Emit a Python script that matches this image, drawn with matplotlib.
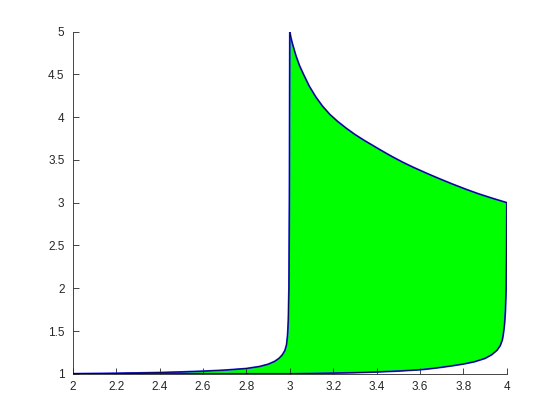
import matplotlib
matplotlib.use("Agg")
import matplotlib.pyplot as plt
import numpy as np

# Left (lower) curve, from (2,1) up to (3,5)
left_x = [2.0, 2.2, 2.4, 2.5, 2.6, 2.7, 2.8, 2.86, 2.9, 2.93, 2.95, 2.965, 2.977,
          2.985, 2.99, 2.993, 2.996, 2.998, 2.999, 3.0]
left_y = [1.0, 1.006, 1.015, 1.022, 1.031, 1.043, 1.062, 1.085, 1.112, 1.145, 1.18, 1.22, 1.27,
          1.34, 1.46, 1.62, 2.0, 3.0, 4.0, 5.0]

# Top curve, from (3,5) down to (4,3)
top_x = [3.0, 3.005, 3.013, 3.028, 3.045, 3.065, 3.09, 3.12, 3.15, 3.185, 3.22,
         3.26, 3.30, 3.34, 3.38, 3.42, 3.47, 3.52, 3.57, 3.63, 3.69, 3.75, 3.81,
         3.87, 3.935, 4.0]
top_y = [5.0, 4.93, 4.85, 4.72, 4.60, 4.49, 4.36, 4.235, 4.13, 4.03, 3.95,
         3.87, 3.797, 3.732, 3.672, 3.612, 3.54, 3.473, 3.412, 3.344, 3.279, 3.217, 3.158,
         3.103, 3.05, 3.0]

# Right side and lower-right curve, from (4,3) back to (3,1)
right_x = [4.0, 3.999, 3.997, 3.994, 3.99, 3.985, 3.98, 3.97, 3.955, 3.93, 3.90,
           3.85, 3.80, 3.75, 3.70, 3.65, 3.60, 3.5, 3.4, 3.3, 3.2, 3.1, 3.0]
right_y = [3.0, 2.5, 2.0, 1.75, 1.59, 1.48, 1.40, 1.33, 1.275, 1.222, 1.18,
           1.14, 1.114, 1.094, 1.076, 1.06, 1.047, 1.032, 1.021, 1.013, 1.008, 1.004, 1.0]

# Closing bottom edge back to start
bottom_x = [3.0, 2.0]
bottom_y = [1.0, 1.0]

xs = np.array(left_x + top_x[1:] + right_x[1:] + bottom_x[1:])
ys = np.array(left_y + top_y[1:] + right_y[1:] + bottom_y[1:])

plt.rcParams['font.family'] = ['Liberation Sans', 'DejaVu Sans']

fig = plt.figure(figsize=(5.6, 4.2), dpi=100)
ax = fig.add_axes([0.13, 0.11, 0.775, 0.815])

ax.fill(xs, ys, facecolor=(0, 1, 0), edgecolor='none', zorder=1)
ax.plot(xs, ys, color='#3030ff', lw=1.3, zorder=2, solid_joinstyle='round')
ax.plot(xs, ys, color='#000040', lw=0.6, zorder=3, solid_joinstyle='round')

ax.set_xlim(2, 4)
ax.set_ylim(1, 5)
ax.set_xticks(np.arange(2, 4.01, 0.2))
ax.set_xticklabels(['2', '2.2', '2.4', '2.6', '2.8', '3', '3.2', '3.4', '3.6', '3.8', '4'])
ax.set_yticks(np.arange(1, 5.01, 0.5))
ax.set_yticklabels(['1', '1.5', '2', '2.5', '3', '3.5', '4', '4.5', '5'])

for s in ['top', 'right']:
    ax.spines[s].set_visible(False)
for s in ['left', 'bottom']:
    ax.spines[s].set_color('#262626')
    ax.spines[s].set_linewidth(0.6)
ax.tick_params(direction='in', length=4, width=0.6, colors='#262626',
               labelsize=8.5, labelcolor='#262626')
ax.tick_params(axis='x', pad=5)
ax.tick_params(axis='y', pad=6)

fig.savefig('out.png', dpi=100)
